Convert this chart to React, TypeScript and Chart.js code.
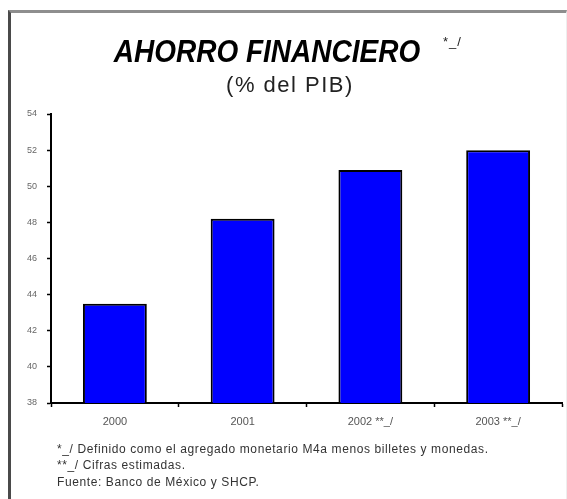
import React, { useEffect, useRef } from "react";
import { Chart, registerables } from "chart.js";

Chart.register(...registerables);

const categories = ["2000", "2001", "2002 **_/", "2003 **_/"];
const values = [43.5, 48.2, 50.9, 52.0];
const yMin = 38;
const yMax = 54;
const yStep = 2;
const titleText = "AHORRO FINANCIERO";
const titleNote = "*_/";
const subtitleText = "(% del PIB)";
const footnotes = [
  "*_/ Definido como el agregado monetario M4a menos billetes y monedas.",
  "**_/ Cifras estimadas.",
  "Fuente: Banco de México y SHCP.",
];

const FONT = "'Liberation Sans', Arial, Helvetica, sans-serif";

export default function App() {
  const canvasRef = useRef<HTMLCanvasElement | null>(null);

  useEffect(() => {
    if (!canvasRef.current) return;
    const chart = new Chart(canvasRef.current, {
      type: "bar",
      data: {
        labels: categories,
        datasets: [
          {
            data: values,
            backgroundColor: "#0000ff",
            borderColor: "#000000",
            borderWidth: 2,
            borderSkipped: false,
            barPercentage: 0.5,
            categoryPercentage: 1.0,
          },
        ],
      },
      options: {
        animation: false,
        responsive: false,
        maintainAspectRatio: false,
        layout: { padding: { top: 114, right: 5, left: 0, bottom: 0 } },
        plugins: {
          legend: { display: false },
          tooltip: { enabled: false },
          title: { display: false },
        },
        scales: {
          x: {
            grid: {
              offset: true,
              drawOnChartArea: false,
              drawTicks: true,
              tickLength: 4,
              tickColor: "#000",
              tickWidth: 1.5,
            },
            border: { display: true, color: "#000", width: 2 },
            ticks: {
              font: { size: 11, family: FONT },
              color: "#555",
              padding: 8,
              maxRotation: 0,
              autoSkip: false,
            },
            afterFit: (s: any) => {
              s.height = 96;
            },
          },
          y: {
            min: yMin,
            max: yMax,
            ticks: {
              stepSize: yStep,
              font: { size: 9, family: FONT },
              color: "#666",
              padding: 10,
            },
            grid: {
              drawOnChartArea: false,
              drawTicks: true,
              tickLength: 4,
              tickColor: "#000",
              tickWidth: 1.5,
            },
            border: { display: true, color: "#000", width: 2 },
            afterFit: (s: any) => {
              s.width = 51;
            },
          },
        },
      },
    });
    return () => chart.destroy();
  }, []);

  return (
    <div
      style={{
        position: "fixed",
        left: 0,
        top: 0,
        width: 567,
        height: 499,
        background: "#fff",
        overflow: "hidden",
        fontFamily: FONT,
      }}
    >
      <div
        style={{
          position: "absolute",
          left: 8,
          top: 10,
          width: 567 - 8 - 3 - 1,
          height: 520,
          borderTop: "3px solid #8e8e8e",
          borderLeft: "3px solid #4a4a4a",
          borderRight: "1px solid #eeeeee",
        }}
      />
      <canvas
        ref={canvasRef}
        width={567}
        height={499}
        style={{ position: "absolute", left: 0, top: 0, width: 567, height: 499 }}
      />
      <div
        style={{
          position: "absolute",
          left: 0,
          top: 38,
          width: 534,
          textAlign: "center",
          fontSize: 28,
          lineHeight: "28px",
          fontWeight: "bold",
          fontStyle: "italic",
          color: "#000",
          transform: "scaleY(1.15)",
          whiteSpace: "nowrap",
        }}
      >
        {titleText}
      </div>
      <div
        style={{
          position: "absolute",
          left: 443,
          top: 35,
          fontSize: 13,
          lineHeight: "14px",
          letterSpacing: "1px",
          color: "#222",
          whiteSpace: "nowrap",
        }}
      >
        {titleNote}
      </div>
      <div
        style={{
          position: "absolute",
          left: 0,
          top: 74,
          width: 580,
          textAlign: "center",
          fontSize: 22,
          lineHeight: "22px",
          letterSpacing: "1.5px",
          color: "#222",
          whiteSpace: "nowrap",
        }}
      >
        {subtitleText}
      </div>
      {footnotes.map((t, i) => (
        <div
          key={i}
          style={{
            position: "absolute",
            left: 57,
            top: [441, 457, 474][i],
            fontSize: 12,
            lineHeight: "16px",
            letterSpacing: "0.6px",
            color: "#333",
            whiteSpace: "nowrap",
          }}
        >
          {t}
        </div>
      ))}
    </div>
  );
}
